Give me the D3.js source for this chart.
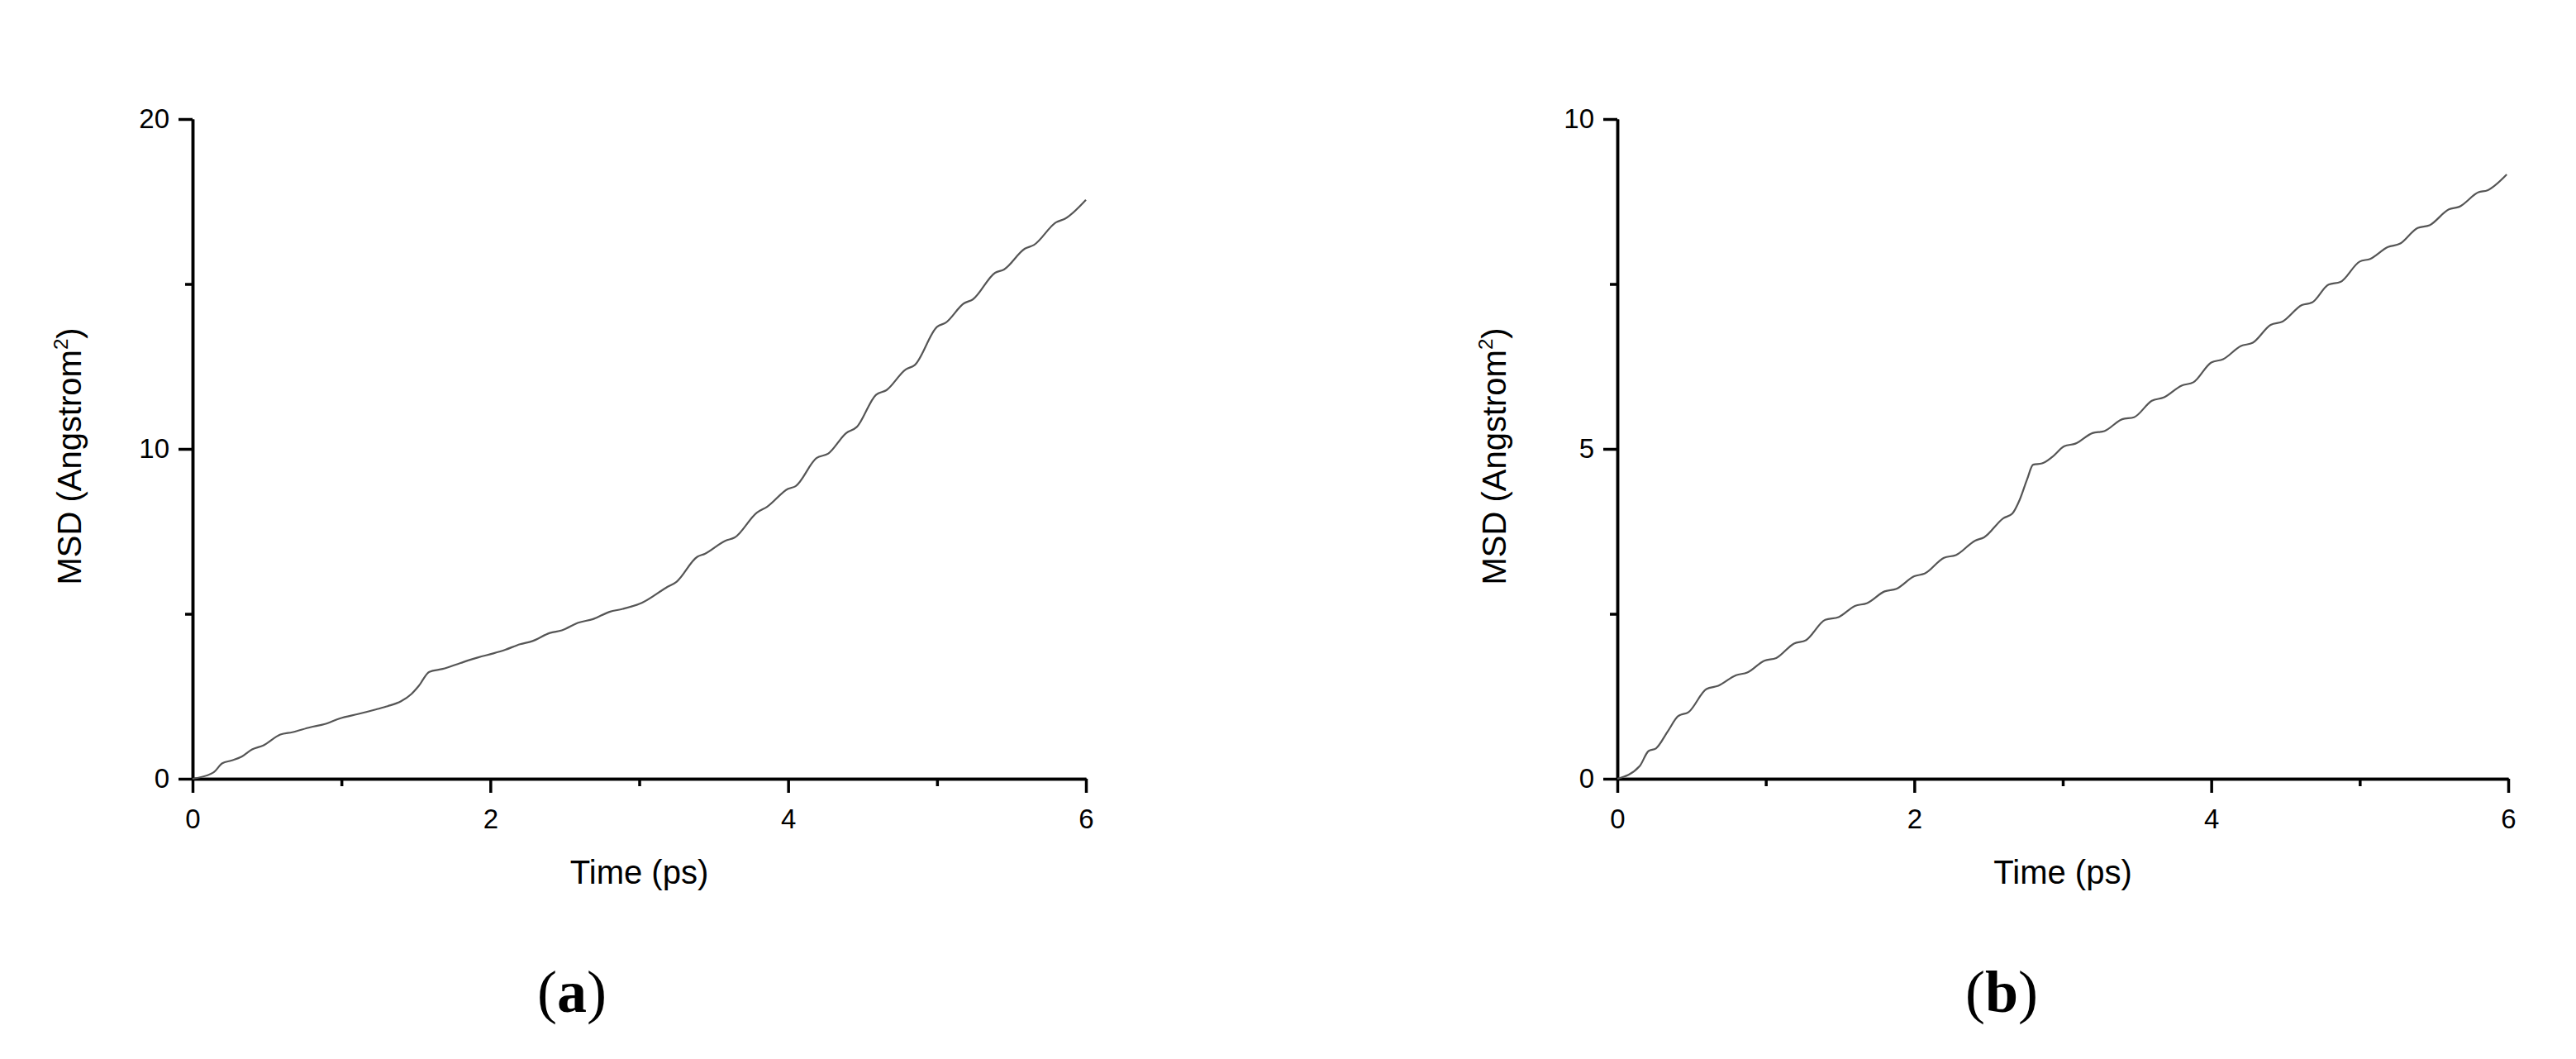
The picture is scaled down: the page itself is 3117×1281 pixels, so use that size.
<!DOCTYPE html>
<html>
<head>
<meta charset="utf-8">
<script src="https://cdn.jsdelivr.net/npm/d3@7"></script>
<style>
  body { margin: 0; background: #fff; }
  svg { display: block; }
  .axis path, .axis line { stroke: #000; stroke-width: 3.5; }
  .axis text { font-family: "Liberation Sans", Arial, sans-serif; font-size: 33px; fill: #000; }
  .title { font-family: "Liberation Sans", Arial, sans-serif; font-size: 40px; fill: #000; }
  .panel { font-family: "Liberation Serif", "Times New Roman", serif; font-size: 72px; fill: #000; }
  .line { fill: none; stroke: #555; stroke-width: 2.2; }
</style>
</head>
<body>
<svg width="3117" height="1281"></svg>
<script>
// panel (a)
var timeA = [0, 0.14, 0.20, 0.26, 0.33, 0.40, 0.475, 0.59, 0.67, 0.79, 0.89, 0.99, 1.11, 1.23, 1.31, 1.40, 1.47, 1.52, 1.59, 1.68,
  1.80, 1.92, 2.02, 2.10, 2.20, 2.28, 2.40, 2.48, 2.59, 2.69, 2.80, 2.89, 3.02, 3.18, 3.25, 3.39, 3.44, 3.58, 3.64, 3.79,
  3.86, 4.00, 4.05, 4.19, 4.27, 4.39, 4.46, 4.59, 4.66, 4.79, 4.85, 5.00, 5.06, 5.18, 5.24, 5.39, 5.45, 5.59, 5.65, 5.80,
  5.86, 6.00];
var msdA = [0, 0.19, 0.47, 0.55, 0.67, 0.89, 1.01, 1.34, 1.41, 1.56, 1.66, 1.83, 1.96, 2.10, 2.20, 2.35, 2.57, 2.82, 3.24, 3.33,
  3.51, 3.68, 3.80, 3.91, 4.08, 4.17, 4.42, 4.50, 4.73, 4.84, 5.06, 5.15, 5.34, 5.79, 5.97, 6.73, 6.82, 7.22, 7.31, 8.07,
  8.25, 8.79, 8.87, 9.72, 9.86, 10.48, 10.66, 11.64, 11.78, 12.41, 12.54, 13.70, 13.83, 14.41, 14.53, 15.34, 15.44, 16.07, 16.18, 16.87,
  16.98, 17.55];

// panel (b)
var timeB = [0, 0.15, 0.21, 0.26, 0.34, 0.41, 0.48, 0.60, 0.68, 0.80, 0.875, 0.99, 1.07, 1.19, 1.27, 1.40, 1.49, 1.60, 1.68, 1.80,
  1.88, 2.00, 2.07, 2.20, 2.28, 2.41, 2.47, 2.60, 2.66, 2.71, 2.76, 2.80, 2.86, 2.93, 3.01, 3.085, 3.20, 3.28, 3.40, 3.48,
  3.60, 3.68, 3.80, 3.88, 4.00, 4.08, 4.20, 4.28, 4.40, 4.48, 4.61, 4.68, 4.79, 4.87, 5.00, 5.07, 5.19, 5.27, 5.39, 5.47,
  5.60, 5.67, 5.80, 5.86, 5.99];
var msdB = [0, 0.19, 0.42, 0.46, 0.72, 0.95, 1.01, 1.36, 1.41, 1.57, 1.61, 1.79, 1.83, 2.05, 2.10, 2.41, 2.45, 2.62, 2.66, 2.84,
  2.88, 3.07, 3.11, 3.35, 3.39, 3.61, 3.66, 3.95, 4.02, 4.23, 4.54, 4.76, 4.78, 4.88, 5.04, 5.08, 5.24, 5.27, 5.45, 5.48,
  5.73, 5.78, 5.96, 6.01, 6.31, 6.36, 6.56, 6.61, 6.88, 6.93, 7.18, 7.22, 7.49, 7.53, 7.84, 7.88, 8.06, 8.11, 8.35, 8.39,
  8.63, 8.67, 8.89, 8.92, 9.16];

var xMajor = [0, 2, 4, 6];
var xMinor = [1, 3, 5];
var yMajorA = [0, 10, 20], yMinorA = [5, 15];
var yMajorB = [0, 5, 10], yMinorB = [2.5, 7.5];

var svg = d3.select("svg");

function drawPanel(p) {
  var x = d3.scaleLinear().domain([0, 6]).range([p.left, p.right]),
      y = d3.scaleLinear().domain([0, p.ymax]).range([942, 144]);

  var g = svg.append("g");

  // minor ticks first, major on top
  g.append("g").attr("class", "axis")
      .attr("transform", "translate(0,942)")
      .call(d3.axisBottom(x).tickValues(xMinor).tickSize(9).tickSizeOuter(0).tickFormat(""));
  g.append("g").attr("class", "axis")
      .attr("transform", "translate(" + p.left + ",0)")
      .call(d3.axisLeft(y).tickValues(p.yMinor).tickSize(9).tickSizeOuter(0).tickFormat(""));

  g.append("g").attr("class", "axis")
      .attr("transform", "translate(0,942)")
      .call(d3.axisBottom(x).tickValues(xMajor).tickSize(17).tickSizeOuter(0).tickPadding(20).tickFormat(d3.format("d")));
  g.append("g").attr("class", "axis")
      .attr("transform", "translate(" + p.left + ",0)")
      .call(d3.axisLeft(y).tickValues(p.yMajor).tickSize(17).tickSizeOuter(0).tickPadding(11).tickFormat(d3.format("d")));

  var line = d3.line()
      .curve(d3.curveMonotoneX)
      .x(function(d) { return x(d[0]); })
      .y(function(d) { return y(d[1]); });

  g.append("path")
      .attr("class", "line")
      .attr("d", line(d3.zip(p.time, p.msd)));

  g.append("text")
      .attr("class", "title")
      .attr("x", (p.left + p.right) / 2)
      .attr("y", 1069)
      .attr("text-anchor", "middle")
      .text("Time (ps)");

  var yt = g.append("text")
      .attr("class", "title")
      .attr("transform", "translate(" + (p.left - 135) + ",552) rotate(-90)")
      .attr("text-anchor", "middle");
  yt.append("tspan").text("MSD (Angstrom");
  yt.append("tspan").attr("font-size", "24px").attr("dy", "-16").text("2");
  yt.append("tspan").attr("dy", "16").text(")");

  var lab = g.append("text")
      .attr("class", "panel")
      .attr("x", p.labelX)
      .attr("y", 1224)
      .attr("text-anchor", "middle");
  lab.append("tspan").text("(");
  lab.append("tspan").attr("font-weight", "bold").text(p.label);
  lab.append("tspan").text(")");
}

drawPanel({left: 233, right: 1314, ymax: 20, yMajor: yMajorA, yMinor: yMinorA,
  time: timeA, msd: msdA, label: "a", labelX: 692});
drawPanel({left: 1957, right: 3035, ymax: 10, yMajor: yMajorB, yMinor: yMinorB,
  time: timeB, msd: msdB, label: "b", labelX: 2422});
</script>
</body>
</html>
